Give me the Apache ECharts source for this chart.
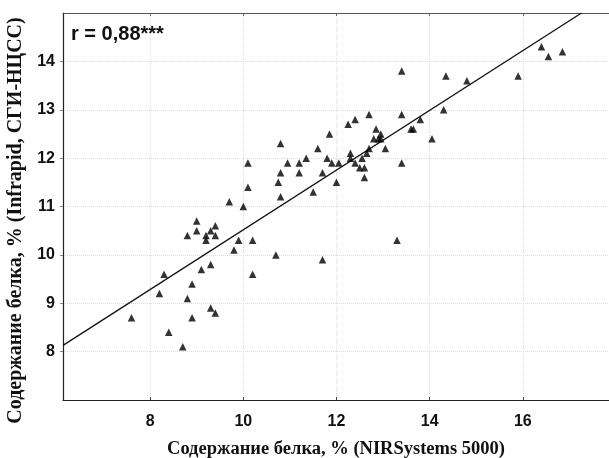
<!DOCTYPE html>
<html>
<head>
<meta charset="utf-8">
<script src="https://cdn.jsdelivr.net/npm/echarts@6/dist/echarts.min.js"></script>
<style>
html,body{margin:0;padding:0;background:#fff;}
#chart{width:609px;height:458px;}
</style>
</head>
<body>
<div id="chart"></div>
<script>
// Protein content, % (NIRSystems 5000) — x
const proteinNIR = [
  7.6, 8.4, 8.7, 8.2, 8.3, 8.8, 8.9, 8.9, 9.1, 9.3, 9.3, 9.4,
  8.8, 9.0, 9.0, 9.2, 9.2, 9.3, 9.4, 9.4, 9.7, 9.8, 9.9, 10.0,
  10.1, 10.1, 10.2, 10.2, 10.7, 10.75, 10.8, 10.8, 10.95, 11.2, 11.2, 11.35,
  11.5, 11.6, 11.7, 11.7, 11.8, 11.9, 12.0, 12.05, 12.3, 12.3, 12.4, 12.5,
  10.8, 11.85, 12.25, 12.4, 12.55, 12.6, 12.6, 12.65, 12.7, 12.7, 12.8, 12.85,
  12.9, 12.95, 12.95, 13.05, 13.3, 13.4, 13.4, 13.6, 13.65, 13.8, 14.05, 14.3,
  14.35, 14.8, 15.9, 16.4, 16.55, 16.85, 13.4
];
// Protein content, % (Infrapid, СГИ-НЦСС) — y
const proteinInfrapid = [
  8.7, 8.4, 8.1, 9.2, 9.6, 9.1, 8.7, 9.4, 9.7, 9.8, 8.9, 8.8,
  10.4, 10.7, 10.5, 10.4, 10.3, 10.5, 10.6, 10.4, 11.1, 10.1, 10.3, 11.0,
  11.9, 11.4, 10.3, 9.6, 10.0, 11.5, 11.7, 11.2, 11.9, 11.9, 11.7, 12.0,
  11.3, 12.2, 11.7, 9.9, 12.0, 11.9, 11.5, 11.9, 12.1, 12.0, 11.9, 11.8,
  12.3, 12.5, 12.7, 12.8, 12.0, 11.8, 11.6, 12.1, 12.2, 12.9, 12.4, 12.6,
  12.4, 12.5, 12.4, 12.2, 10.3, 12.9, 11.9, 12.6, 12.6, 12.8, 12.4, 13.0,
  13.7, 13.6, 13.7, 14.3, 14.1, 14.2, 13.8
];
// Regression line end points
const fitX = [6.13, 17.26];
const fitY = [8.13, 15.0];
// Tick labels
const xTicks = [8, 10, 12, 14, 16];
const annotation = 'r = 0,88***';

const points = proteinNIR.map((x, i) => [x, proteinInfrapid[i]]);
const fitLine = fitX.map((x, i) => [x, fitY[i]]);

const chart = echarts.init(document.getElementById('chart'), null, {renderer: 'canvas'});
const tickFont = {fontFamily: 'Liberation Sans', fontWeight: 'bold', fontSize: 16, color: '#111'};

chart.setOption({
  animation: false,
  backgroundColor: '#fff',
  grid: {left: 63, top: 13, right: 0, bottom: 58, containLabel: false, outerBoundsMode: 'none'},
  xAxis: [{
    type: 'value', min: 6.13, max: 17.85,
    position: 'bottom',
    name: 'Содержание белка, % (NIRSystems 5000)',
    nameLocation: 'middle', nameGap: 40,
    nameTextStyle: {fontFamily: 'Liberation Serif', fontWeight: 'bold', fontSize: 18.5, color: '#111'},
    axisLine: {show: true, lineStyle: {color: '#222', width: 1.2}},
    axisTick: {show: true, inside: true, length: 3, customValues: xTicks, lineStyle: {color: '#444'}},
    axisLabel: {customValues: xTicks, margin: 14, ...tickFont},
    splitLine: {show: true, lineStyle: {color: '#dcdcdc', type: 'dotted', width: 1}}
  }, {
    type: 'value', min: 6.13, max: 17.85,
    position: 'top',
    axisLine: {show: true, onZero: false, lineStyle: {color: '#555', width: 1.2}},
    axisTick: {show: true, inside: true, length: 3, customValues: xTicks, lineStyle: {color: '#666'}},
    axisLabel: {show: false},
    splitLine: {show: false}
  }],
  yAxis: {
    type: 'value', min: 7, max: 15, interval: 1,
    name: 'Содержание белка, % (Infrapid, СГИ-НЦСС)',
    nameLocation: 'middle', nameGap: 36,
    nameTextStyle: {fontFamily: 'Liberation Serif', fontWeight: 'bold', fontSize: 20, color: '#111', padding: [0, 28, 0, 0]},
    axisLine: {show: true, lineStyle: {color: '#222', width: 1.2}},
    axisTick: {show: true, inside: false, length: 3, lineStyle: {color: '#888'}},
    axisLabel: {showMinLabel: false, showMaxLabel: false, margin: 8, ...tickFont},
    splitLine: {show: true, lineStyle: {color: '#dcdcdc', type: 'dotted', width: 1}}
  },
  graphic: [{
    type: 'text', left: 71, top: 24, z: 100,
    style: {text: annotation, fontFamily: 'Liberation Sans', fontWeight: 'bold', fontSize: 20, fill: '#111'}
  }],
  series: [{
    type: 'line',
    data: fitLine,
    xAxisIndex: 0,
    symbol: 'none',
    clip: true,
    lineStyle: {color: '#111', width: 1.3},
    z: 2
  }, {
    type: 'scatter',
    data: points,
    xAxisIndex: 0,
    symbol: 'triangle',
    symbolSize: 7.5,
    itemStyle: {color: '#000'},
    z: 3
  }]
});
</script>
</body>
</html>
